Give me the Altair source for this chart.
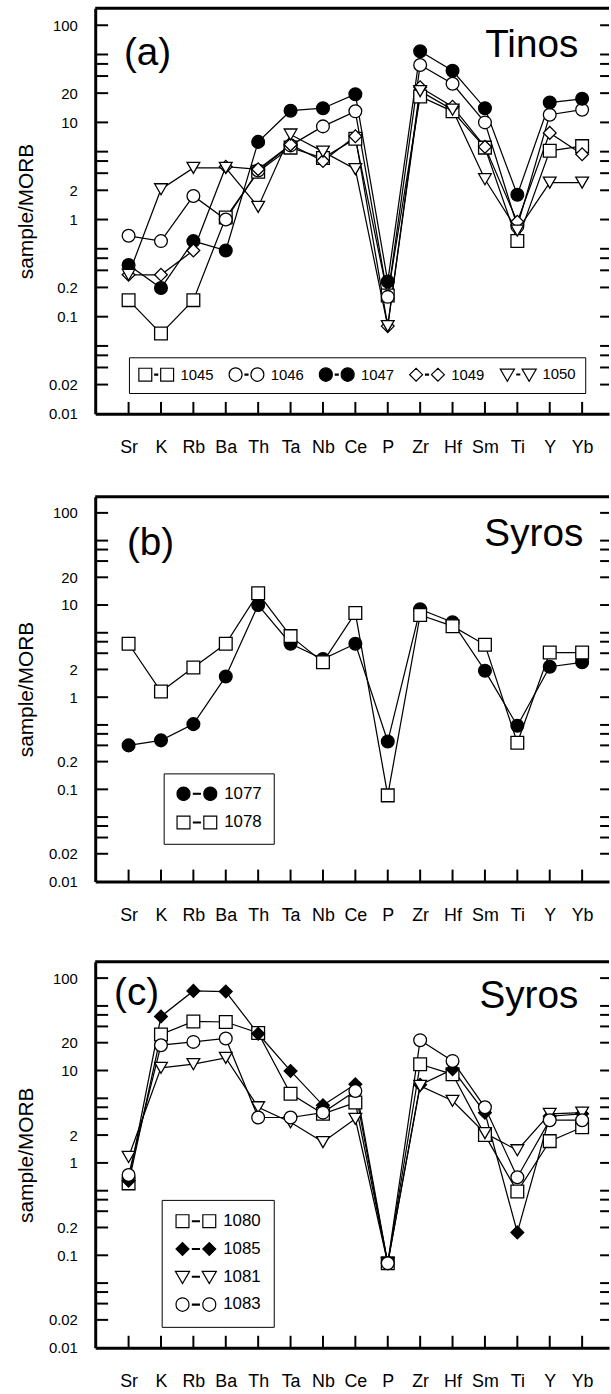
import json
import altair as alt
import pandas as pd

elements = ["Sr", "K", "Rb", "Ba", "Th", "Ta", "Nb", "Ce", "P", "Zr", "Hf", "Sm", "Ti", "Y", "Yb"]

# ---- panel (a) Tinos ----
a_ids = ["1045", "1046", "1047", "1049", "1050"]
a_1045 = [0.148, 0.067, 0.148, 1.05, 3.1, 5.5, 4.3, 6.8, 0.165, 18.5, 13.0, 5.5, 0.60, 5.1, 5.7]
a_1046 = [0.68, 0.60, 1.75, 1.0, 3.2, 5.8, 9.1, 13.0, 0.16, 39.0, 25.0, 10.0, 0.85, 12.0, 13.5]
a_1047 = [0.34, 0.197, 0.60, 0.48, 6.3, 13.2, 14.0, 19.5, 0.23, 54.0, 34.0, 14.0, 1.8, 16.0, 17.5]
a_1049 = [0.27, 0.27, 0.48, 3.5, 3.3, 5.9, 4.0, 7.2, 0.08, 23.0, 14.5, 5.6, 0.95, 7.8, 4.7]
a_1050 = [0.27, 2.05, 3.4, 3.4, 1.35, 7.5, 5.0, 3.3, 0.08, 21.0, 13.5, 2.6, 0.77, 2.4, 2.4]
a_shapes = ["square", "circle", "circle", "diamond", "triangle-down"]
a_fills = ["white", "white", "black", "white", "white"]

# ---- panel (b) Syros ----
b_ids = ["1077", "1078"]
b_1077 = [0.30, 0.34, 0.51, 1.68, 10.0, 3.8, 2.6, 3.8, 0.33, 9.0, 6.5, 1.94, 0.49, 2.14, 2.39]
b_1078 = [3.8, 1.15, 2.1, 3.8, 13.4, 4.6, 2.4, 8.2, 0.086, 7.8, 5.9, 3.7, 0.32, 3.05, 3.05]
b_shapes = ["circle", "square"]
b_fills = ["black", "white"]

# ---- panel (c) Syros ----
c_ids = ["1080", "1085", "1081", "1083"]
c_1080 = [0.60, 24.5, 34.0, 33.5, 25.5, 5.6, 3.4, 4.5, 0.082, 11.7, 9.1, 2.0, 0.49, 1.72, 2.43]
c_1085 = [0.64, 38.5, 72.7, 71.5, 25.0, 9.9, 4.2, 7.1, 0.082, 7.0, 10.3, 3.5, 0.177, 3.2, 3.4]
c_1081 = [1.16, 10.7, 11.7, 13.7, 4.0, 2.75, 1.68, 3.0, 0.082, 6.8, 4.7, 2.1, 1.37, 3.4, 3.5]
c_1083 = [0.74, 18.8, 20.4, 22.2, 3.1, 3.1, 3.5, 6.0, 0.082, 21.3, 12.7, 4.0, 0.70, 2.9, 2.9]
c_shapes = ["square", "diamond", "triangle-down", "circle"]
c_fills = ["white", "black", "white", "white"]

tick_values = [100, 50, 40, 30, 20, 10, 5, 4, 3, 2, 1, 0.5, 0.4, 0.3, 0.2, 0.1, 0.05, 0.04, 0.03, 0.02]
label_values = [100, 20, 10, 2, 1, 0.2, 0.1, 0.02, 0.01]

W = 518
FONT = "Liberation Sans"
U = 7.0  # legend symbol unit (px) -> symbolSize = (2U)^2


def fmt(v):
    return f"{v:.3f}"


def shape_path(kind, c, h):
    if kind == "square":
        return f"M{fmt(c-h)},{fmt(-h)}L{fmt(c+h)},{fmt(-h)}L{fmt(c+h)},{fmt(h)}L{fmt(c-h)},{fmt(h)}Z"
    if kind == "circle":
        return (f"M{fmt(c-h)},0A{fmt(h)},{fmt(h)} 0 1 0 {fmt(c+h)},0"
                f"A{fmt(h)},{fmt(h)} 0 1 0 {fmt(c-h)},0Z")
    if kind == "diamond":
        return f"M{fmt(c-h)},0L{fmt(c)},{fmt(-h)}L{fmt(c+h)},0L{fmt(c)},{fmt(h)}Z"
    return (f"M{fmt(c-h*1.1)},{fmt(-h*0.85)}L{fmt(c+h*1.1)},{fmt(-h*0.85)}"
            f"L{fmt(c)},{fmt(h*1.05)}Z")


def pair_path(kind, S, dash, g=6.5):
    def X(px):
        return (px - U) / U
    h = g / U
    left = X(g)
    right = X(S - g)
    d0, d1 = X(S / 2 - dash / 2), X(S / 2 + dash / 2)
    t = 0.5 / U
    dash_p = f"M{fmt(d0)},{fmt(-t)}L{fmt(d1)},{fmt(-t)}L{fmt(d1)},{fmt(t)}L{fmt(d0)},{fmt(t)}Z"
    return shape_path(kind, left, h) + shape_path(kind, right, h) + dash_p


def panel(ids, series, shapes, fills, H, letter, lxy, name, nxy, leg):
    rows = []
    for sid, vals in zip(ids, series):
        for i, (el, v) in enumerate(zip(elements, vals)):
            rows.append({"sample": sid, "series": sid, "i": i, "el": el, "v": v})
    df = pd.DataFrame(rows)

    x = alt.X("i:Q",
              scale=alt.Scale(domain=[-1.03, 14.83], nice=False, zero=False),
              axis=alt.Axis(values=list(range(len(elements))),
                            labelExpr=json.dumps(elements) + "[datum.value]",
                            ticks=False, grid=False, domainWidth=3, domainColor="black",
                            labelFontSize=18, labelPadding=25, labelOverlap=False,
                            labelFlush=False, labelColor="black", labelFont=FONT,
                            title=None))
    y = alt.Y("v:Q",
              scale=alt.Scale(type="log", domain=[0.01, 150], nice=False),
              axis=alt.Axis(values=label_values, format="~g", ticks=False, grid=False,
                            domainWidth=3, domainColor="black", labelFontSize=15,
                            labelPadding=18, labelOverlap=False, labelColor="black",
                            labelFont=FONT, title="sample/MORB", titleFont=FONT,
                            titleFontSize=21, titleFontWeight="normal",
                            titleColor="black", titlePadding=12))

    lines = alt.Chart(df).mark_line(color="black", strokeWidth=1.25).encode(
        x=x, y=y, detail="sample:N", order="i:Q")

    points = alt.Chart(df).mark_point(filled=True, stroke="black", strokeWidth=1.3,
                                      size=165, opacity=1).encode(
        x=x, y=y,
        shape=alt.Shape("sample:N", scale=alt.Scale(domain=ids, range=shapes), legend=None),
        fill=alt.Fill("sample:N", scale=alt.Scale(domain=ids, range=fills), legend=None))

    S = leg["S"]
    pairs = [pair_path(k, S, leg["dash"]) for k in shapes]
    legend = alt.Legend(orient="none", legendX=leg["x"], legendY=leg["y"],
                        direction=leg["dir"], title=None, symbolSize=(2 * U) ** 2,
                        symbolStrokeWidth=1.2, symbolStrokeColor="black",
                        symbolOpacity=1, labelFont=FONT, labelFontSize=leg["fs"],
                        labelColor="black", labelOffset=S - 2 * U + 6,
                        columnPadding=leg["cp"], rowPadding=leg["rp"],
                        padding=leg["pad"], strokeColor="black")
    legend_layer = alt.Chart(df).mark_point(filled=True, opacity=0, stroke="black",
                                            strokeWidth=1.2).encode(
        x=x, y=y,
        shape=alt.Shape("series:N", scale=alt.Scale(domain=ids, range=pairs), legend=legend),
        fill=alt.Fill("series:N", scale=alt.Scale(domain=ids, range=fills), legend=legend),
        stroke=alt.Stroke("series:N", scale=alt.Scale(domain=ids, range=["black"] * len(ids)),
                          legend=legend))

    tick_df = pd.DataFrame({"i": list(range(len(elements)))})
    xticks = alt.Chart(tick_df).mark_rule(color="black", strokeWidth=2).encode(
        x=x, y=alt.value(H - 12), y2=alt.value(H))

    ydf = pd.DataFrame({"v": tick_values})
    yticks_l = alt.Chart(ydf).mark_rule(color="black", strokeWidth=2).encode(
        y=y, x=alt.value(0), x2=alt.value(13))
    yticks_r = alt.Chart(ydf).mark_rule(color="black", strokeWidth=2).encode(
        y=y, x=alt.value(W - 9), x2=alt.value(W))

    one = pd.DataFrame({"a": [0]})
    top = alt.Chart(one).mark_rule(color="black", strokeWidth=3).encode(
        x=alt.value(0), x2=alt.value(W), y=alt.value(0))
    t_letter = alt.Chart(one).mark_text(align="left", baseline="alphabetic", fontSize=39,
                                        font=FONT, color="black").encode(
        x=alt.value(lxy[0]), y=alt.value(lxy[1]), text=alt.value(letter))
    t_name = alt.Chart(one).mark_text(align="right", baseline="alphabetic", fontSize=39,
                                      font=FONT, color="black").encode(
        x=alt.value(nxy[0]), y=alt.value(nxy[1]), text=alt.value(name))

    return alt.layer(lines, points, legend_layer, xticks, yticks_l, yticks_r, top,
                     t_letter, t_name).resolve_scale(
        shape="independent", fill="independent", stroke="independent").properties(
        width=W, height=H)


pa = panel(a_ids, [a_1045, a_1046, a_1047, a_1049, a_1050], a_shapes, a_fills, 409,
           "(a)", (29, 57), "Tinos", (487, 49),
           dict(S=35, dash=3.0, x=34, y=352, dir="horizontal", fs=15, cp=12, rp=0, pad=9))
pb = panel(b_ids, [b_1077, b_1078], b_shapes, b_fills, 388,
           "(b)", (32, 59), "Syros", (492, 50),
           dict(S=40, dash=7.0, x=69, y=279, dir="vertical", fs=17, cp=0, rp=10, pad=12))
pc = panel(c_ids, [c_1080, c_1085, c_1081, c_1083], c_shapes, c_fills, 389,
           "(c)", (19, 44), "Syros", (487, 47),
           dict(S=40, dash=7.0, x=67, y=240, dir="vertical", fs=17, cp=0, rp=9, pad=13))

lower = alt.vconcat(pb, pc, spacing=36).resolve_scale(
    shape="independent", fill="independent", stroke="independent")

chart = alt.vconcat(pa, lower, spacing=38.5).resolve_scale(
    shape="independent", fill="independent", stroke="independent").properties(
    padding={"left": 15, "top": 0.5, "right": 0, "bottom": 0}
).configure_view(strokeWidth=0)

chart.save("out.html", embed_options={"renderer": "svg", "actions": False})
